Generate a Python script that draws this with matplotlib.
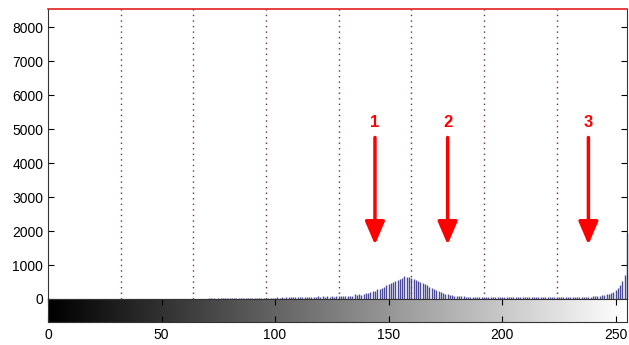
import matplotlib
matplotlib.use('Agg')
import matplotlib.pyplot as plt
import numpy as np

plt.rcParams['font.family'] = ['Liberation Sans', 'DejaVu Sans']

# histogram counts for gray levels 0..255
counts = [
    0, 0, 0, 0, 0, 0, 0, 0, 0, 0, 0, 0, 0, 0, 0, 0,
    0, 0, 0, 0, 0, 0, 0, 0, 0, 0, 0, 0, 0, 0, 0, 0,
    0, 0, 0, 0, 0, 0, 0, 0, 0, 0, 0, 0, 0, 0, 0, 0,
    0, 0, 0, 0, 0, 2, 0, 3, 0, 4, 2, 5, 3, 6, 4, 8,
    6, 10, 8, 12, 10, 14, 12, 16, 15, 18, 14, 20, 18, 22, 20, 24,
    22, 26, 24, 28, 25, 30, 27, 32, 30, 34, 28, 36, 33, 38, 35, 40,
    38, 42, 36, 44, 40, 46, 42, 48, 44, 50, 46, 52, 48, 55, 50, 56,
    50, 55, 52, 60, 56, 64, 60, 90, 62, 95, 66, 98, 70, 100, 72, 76,
    80, 84, 82, 90, 86, 96, 100, 140, 105, 150, 120, 160, 180, 175, 210, 230,
    250, 280, 300, 330, 360, 400, 430, 470, 500, 540, 570, 600, 620, 680, 650, 640,
    610, 590, 560, 540, 500, 470, 440, 400, 360, 320, 290, 260, 230, 200, 180, 160,
    140, 120, 110, 100, 90, 85, 80, 75, 72, 70, 68, 66, 64, 62, 60, 58,
    60, 56, 58, 55, 60, 54, 58, 56, 62, 55, 60, 57, 64, 58, 62, 56,
    60, 64, 58, 66, 60, 70, 62, 68, 60, 64, 58, 62, 56, 60, 58, 62,
    56, 60, 54, 58, 56, 60, 55, 58, 56, 60, 58, 62, 60, 66, 64, 72,
    76, 84, 90, 100, 110, 125, 140, 160, 185, 215, 260, 320, 400, 520, 720, 1950,
]
bins = np.arange(256)

grid_x = [32, 64, 96, 128, 160, 192, 224]
arrow_x = [144, 176, 238]
arrow_labels = ['1', '2', '3']
y_ticks = [0, 1000, 2000, 3000, 4000, 5000, 6000, 7000, 8000]
x_ticks = [0, 50, 100, 150, 200, 250]

fig = plt.figure(figsize=(6.29, 3.45), dpi=100)
ax = fig.add_axes([48/629, 46/345, 579/629, 290/345])
cb = fig.add_axes([48/629, 23/345, 579/629, 23/345])

ax.vlines(bins, 0, counts, color='#4a4a96', lw=1.0, clip_on=False)
for gx in grid_x:
    ax.axvline(gx, color='#6a3040', ls=(0, (1, 3)), lw=1.0, zorder=0)

for x, lab in zip(arrow_x, arrow_labels):
    ax.annotate('', xy=(x, 1600), xytext=(x, 4750),
                arrowprops=dict(arrowstyle='-|>,head_width=0.6,head_length=1.4',
                                color='#ff0000', lw=2.5, shrinkA=0, shrinkB=0))
    ax.text(x, 5200, lab, color='#ff0000', fontsize=12, fontweight='bold',
            ha='center', va='center')

ax.set_xlim(0, 255)
ax.set_ylim(0, 8530)
ax.set_xticks([])
ax.set_yticks(y_ticks)
ax.tick_params(axis='y', direction='in', length=4, right=True, labelsize=10)
for s in ['left', 'right', 'bottom']:
    ax.spines[s].set_color('#333333')
    ax.spines[s].set_linewidth(0.8)
ax.spines['top'].set_color('#e02020')
ax.spines['top'].set_linewidth(1.2)

cb.imshow(np.array([bins]), cmap='gray', aspect='auto', extent=[0, 255, 0, 1],
          vmin=0, vmax=255)
cb.set_xlim(0, 255)
cb.set_yticks([])
cb.set_xticks(x_ticks)
cb.tick_params(axis='x', direction='in', length=4, top=True, labelsize=10, pad=4)
for s in cb.spines.values():
    s.set_color('#333333')
    s.set_linewidth(0.8)

fig.savefig('out.png', dpi=100)
